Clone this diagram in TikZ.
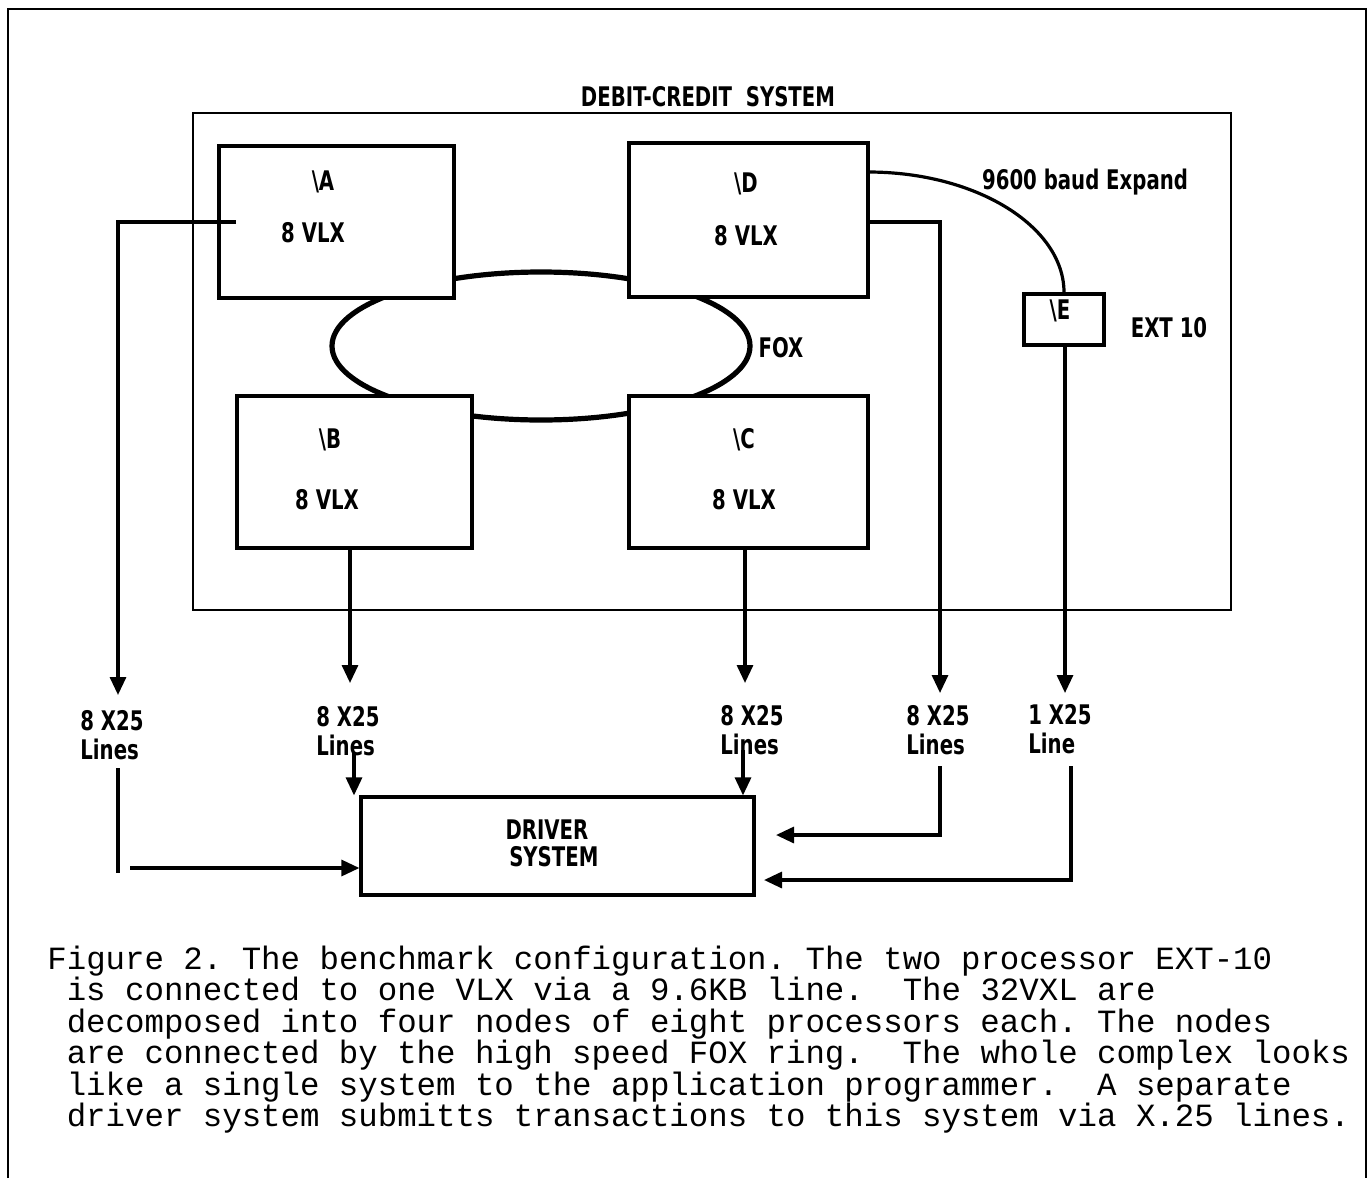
\documentclass[tikz,border=0pt]{standalone}
\usepackage{fontspec}
\usetikzlibrary{shapes.geometric,arrows.meta,fit}
\newfontfamily\labfont[FakeStretch=0.73]{DejaVu Sans}
\newfontfamily\capfont{Liberation Mono}
\tikzset{
  box/.style={draw, line width=1.8pt, fill=white, inner sep=0pt},
  sysbox/.style={draw, line width=1.4pt, inner sep=0pt},
  lab/.style={font=\labfont\bfseries\fontsize{13.5}{14.5}\selectfont, inner sep=0pt},
  conn/.style={line width=1.6pt},
  arr/.style={conn, -{Triangle[width=8pt,length=9pt]}},
  captext/.style={font=\capfont\frenchspacing\fontsize{16.2}{16}\selectfont, anchor=base west, inner sep=0pt},
}
\begin{document}
\begin{tikzpicture}[x=0.5pt,y=-0.5pt]
\useasboundingbox (0,0) rectangle (1369,1178);
% outer frame
\draw[line width=1.2pt] (8,1178) -- (8,9) -- (1366,9) -- (1366,1178);
% system box
\node[sysbox, fit={(193,113) (1231,610)}] (sys) {};
\node[lab] (systitle) at (708,97) {DEBIT-CREDIT\ \ SYSTEM};
% FOX ring
\node[draw, ellipse, line width=2.6pt, inner sep=0pt, minimum width=209pt, minimum height=74pt] (fox) at (541,346) {};
\node[lab] (foxlab) at (781,348) {FOX};
% processor boxes
\node[box, fit={(219,146) (454,298)}] (A) {};
\node[box, fit={(629,143) (868,297)}] (D) {};
\node[box, fit={(237,396) (472,548)}] (B) {};
\node[box, fit={(629,396) (868,548)}] (C) {};
\node[box, line width=1.6pt, fit={(1024,294) (1104,345)}] (E) {};
\node[box, line width=1.6pt, fit={(361,797) (754,895)}] (drv) {};
% labels in boxes
\node[lab] (an) at (323,182) {\textbackslash A};
\node[lab] (av) at (313,233) {8 VLX};
\node[lab] (dn) at (746,184) {\textbackslash D};
\node[lab] (dv) at (746,236) {8 VLX};
\node[lab] (bn) at (330,440) {\textbackslash B};
\node[lab] (bv) at (327,500) {8 VLX};
\node[lab] (cn) at (744,440) {\textbackslash C};
\node[lab] (cv) at (744,500) {8 VLX};
\node[lab] (en) at (1060,311) {\textbackslash E};
\node[lab] (ext) at (1169,328) {EXT 10};
\node[lab] (baud) at (1085,182) {9600 baud Expand};
\node[lab, align=center] (drvlab) at (547,843) {DRIVER\\[-1pt]\ \ SYSTEM};
% line labels
\node[lab, align=left, anchor=north west] (l1) at (80,710) {8 X25\\Lines};
\node[lab, align=left, anchor=north west] (l2) at (316,706) {8 X25\\Lines};
\node[lab, align=left, anchor=north west] (l3) at (720,705) {8 X25\\Lines};
\node[lab, align=left, anchor=north west] (l4) at (906,705) {8 X25\\Lines};
\node[lab, align=left, anchor=north west] (l5) at (1028,704) {1 X25\\Line};
% coordinates
\coordinate (aIn) at (236,222);
\coordinate (t1) at (118,695);
\coordinate (s1) at (118,768);
\coordinate (s1b) at (118,873);
\coordinate (h1) at (130,868);
\coordinate (t2) at (350,683);
\coordinate (s2) at (354,752);
\coordinate (t3) at (745,683);
\coordinate (s3) at (743,750);
\coordinate (dOut) at (868,222);
\coordinate (t4) at (940,693);
\coordinate (s4) at (940,766);
\coordinate (e4) at (776,835);
\coordinate (t5) at (1065,693);
\coordinate (s5) at (1071,766);
\coordinate (e5) at (764,880);
\coordinate (dCurve) at (868,172);
% connectors
\draw[arr] (aIn) -| (t1);
\draw[conn] (s1) -- (s1b);
\draw[arr] (h1) -- (h1 -| drv.west);
\draw[arr] (B.south -| t2) -- (t2);
\draw[arr] (s2) -- (s2 |- drv.north);
\draw[arr] (C.south -| t3) -- (t3);
\draw[arr] (s3) -- (s3 |- drv.north);
\draw[arr] (dOut) -| (t4);
\draw[arr] (s4) |- (e4);
\draw[arr] (E.south -| t5) -- (t5);
\draw[arr] (s5) |- (e5);
\draw[conn] (dCurve) .. controls (977,172) and (1064,227) .. (E.north -| 1064,0);
% caption
\node[captext] (c1) at (47,969) {Figure 2. The benchmark configuration. The two processor EXT-10};
\node[captext] (c2) at (66.4,1000.5) {is connected to one VLX via a 9.6KB line.\ \ The 32VXL are};
\node[captext] (c3) at (66.4,1032) {decomposed into four nodes of eight processors each. The nodes};
\node[captext] (c4) at (66.4,1063.5) {are connected by the high speed FOX ring.\ \ The whole complex looks};
\node[captext] (c5) at (66.4,1095) {like a single system to the application programmer.\ \ A separate};
\node[captext] (c6) at (66.4,1126.5) {driver system submitts transactions to this system via X.25 lines.};
\end{tikzpicture}
\end{document}
